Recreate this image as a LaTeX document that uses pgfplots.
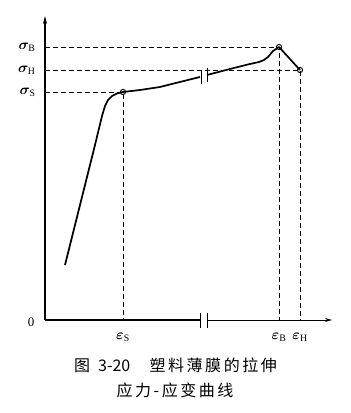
\documentclass[border=0pt]{standalone}
\usepackage{fontspec}
\usepackage{pgfplots}
\pgfplotsset{compat=1.18}
\usepackage{bm}
\usetikzlibrary{arrows.meta}
\newfontfamily\cjk[LetterSpace=16]{Noto Sans CJK SC}
\newfontfamily\cjknum{Noto Sans CJK SC}
\setmainfont{Liberation Serif}
\begin{document}
\begin{tikzpicture}
\useasboundingbox (-45bp,-93bp) rectangle (306bp,320bp);
\begin{axis}[at={(0,0)}, anchor=south west, scale only axis, width=287bp, height=304bp,
  xmin=0, xmax=287, ymin=0, ymax=304, axis lines=none, clip=false]
% axes
\draw[line width=1.1bp] (axis cs:0,0) -- (axis cs:155,0);
\draw[line width=0.9bp,-{Stealth[length=7bp,width=4bp]}] (axis cs:162,0) -- (axis cs:287,0);
\draw[line width=1.1bp,-{Stealth[length=8bp,width=4bp]}] (axis cs:0,0) -- (axis cs:0,304);
\draw[line width=1bp] (axis cs:155,-8) -- (axis cs:155,7);
\draw[line width=1bp] (axis cs:162,-8) -- (axis cs:162,7);
% dashed guides
\addplot[black, line width=0.9bp, dash pattern=on 5bp off 3bp] coordinates {(0,228) (78,228) (78,0)};
\addplot[black, line width=0.9bp, dash pattern=on 5bp off 3bp] coordinates {(0,273) (234,273) (234,0)};
\addplot[black, line width=0.9bp, dash pattern=on 5bp off 3bp] coordinates {(0,250) (255,250) (255,0)};
% curve
\addplot[black, line width=1.7bp, line join=round] coordinates {
 (20,55) (30,95) (40,135) (50,175) (57,204) (60,214) (63,220) (67,224) (72,226.5) (78,228)
 (95,230) (115,233) (135,238) (155,243)};
\addplot[black, line width=1.7bp, line join=round] coordinates {
 (162,245) (185,251) (205,256) (214,258) (219,260) (223,263) (228,269) (234,273) (255,250)};
\draw[line width=1bp] (axis cs:156,236) -- (axis cs:156,250);
\draw[line width=1bp] (axis cs:162,238) -- (axis cs:162,252);
% points
\addplot[only marks, mark=o, mark size=2.6bp, mark options={fill=white, line width=1bp}] coordinates {(78,228) (234,273) (255,250)};
% labels
\node[anchor=east, font=\fontsize{14bp}{14bp}\selectfont] at (axis cs:-6,273) {$\bm{\sigma}_{\mathrm{B}}$};
\node[anchor=east, font=\fontsize{14bp}{14bp}\selectfont] at (axis cs:-6,250) {$\bm{\sigma}_{\mathrm{H}}$};
\node[anchor=east, font=\fontsize{14bp}{14bp}\selectfont] at (axis cs:-6,228) {$\bm{\sigma}_{\mathrm{S}}$};
\node[anchor=east] at (axis cs:-7,-2) {\fontsize{13bp}{13bp}\selectfont 0};
\node[font=\fontsize{14bp}{14bp}\selectfont] at (axis cs:78,-17) {$\bm{\varepsilon}_{\mathrm{S}}$};
\node[font=\fontsize{14bp}{14bp}\selectfont] at (axis cs:234,-17) {$\bm{\varepsilon}_{\mathrm{B}}$};
\node[font=\fontsize{14bp}{14bp}\selectfont] at (axis cs:255,-17) {$\bm{\varepsilon}_{\mathrm{H}}$};
\node at (axis cs:130.5,-45) {\fontsize{16bp}{16bp}\selectfont{\cjknum 图\hspace{0.5em}3-20}\hspace{1.2em}{\cjk 塑料薄膜的拉伸}};
\node at (axis cs:130,-70) {\cjk\fontsize{16bp}{16bp}\selectfont 应力-应变曲线};
\end{axis}
\end{tikzpicture}
\end{document}
